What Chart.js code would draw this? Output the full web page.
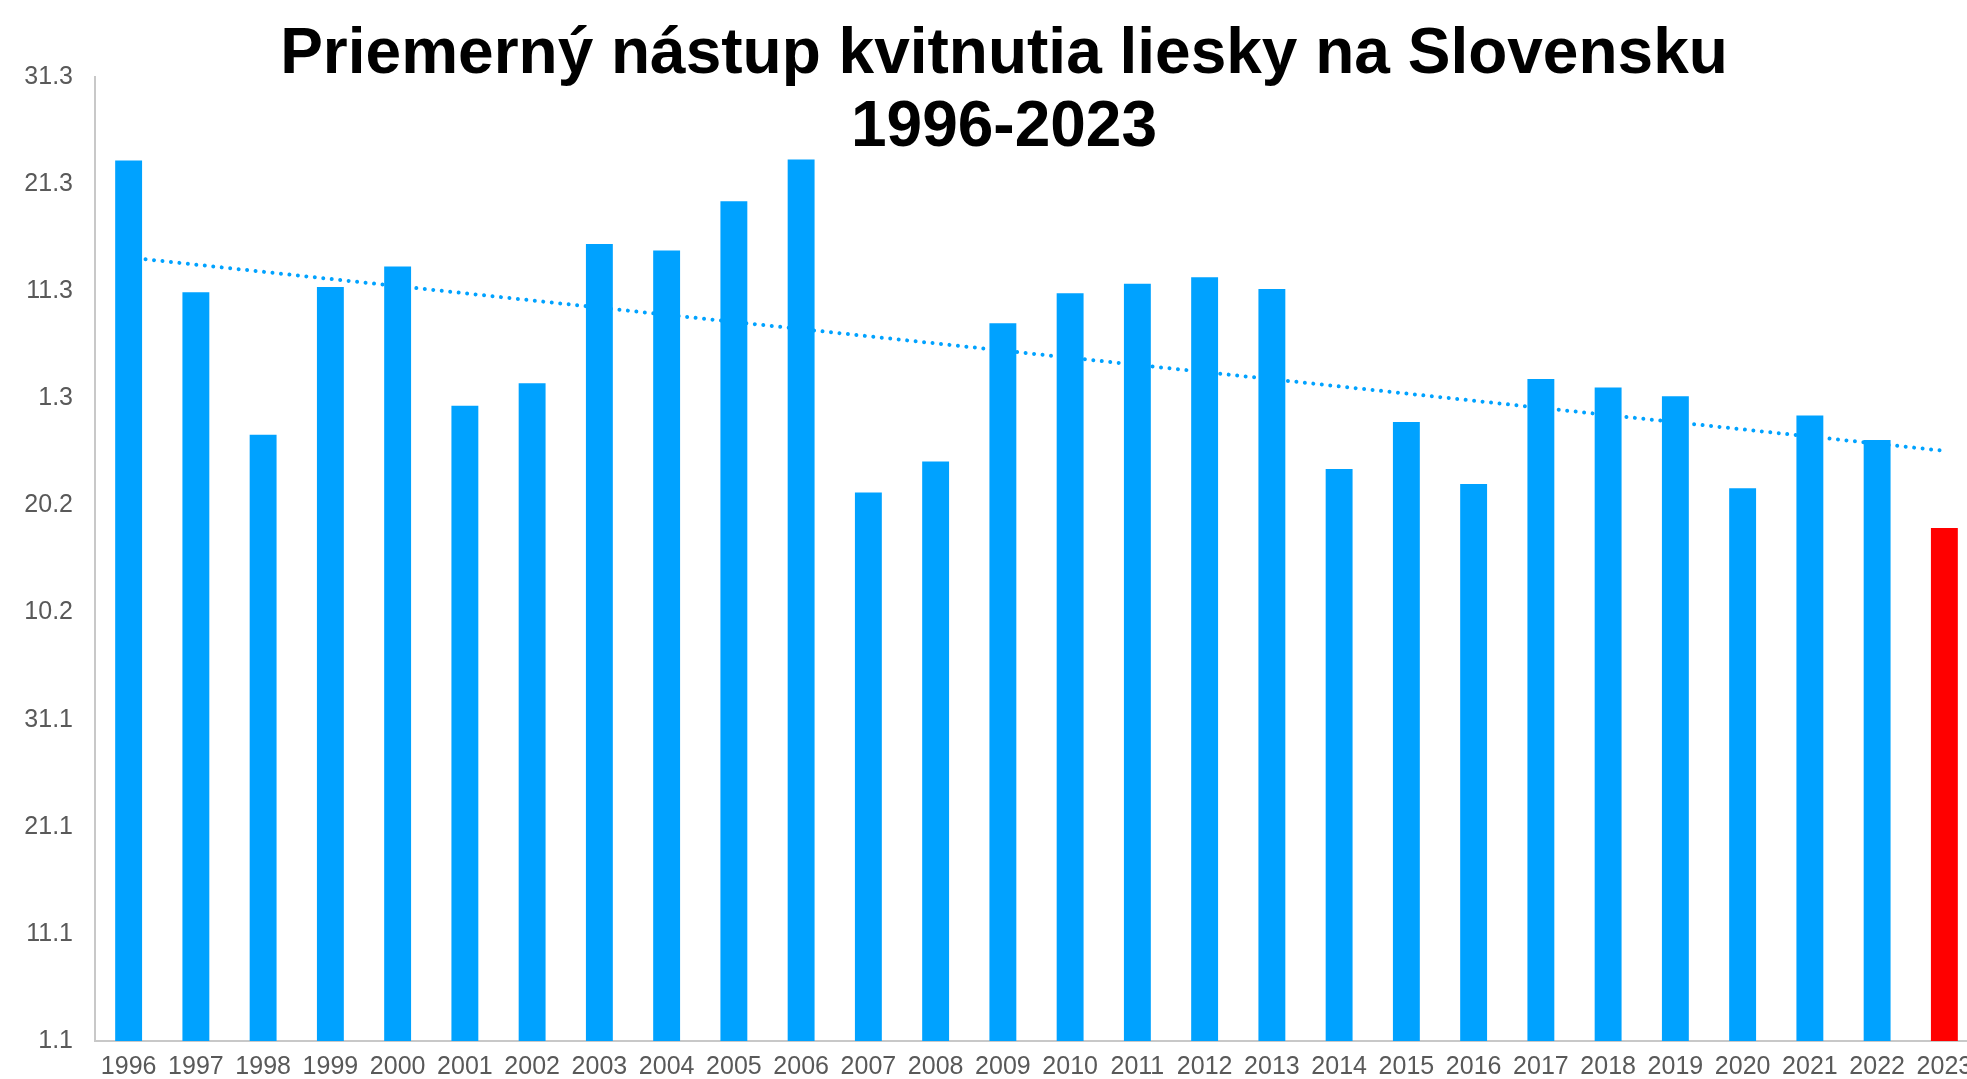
<!DOCTYPE html>
<html lang="sk">
<head>
<meta charset="utf-8">
<title>Priemerný nástup kvitnutia liesky na Slovensku 1996-2023</title>
<script src="https://cdn.jsdelivr.net/npm/chart.js@4.4.0/dist/chart.umd.min.js"></script>
<style>
  html, body { margin: 0; padding: 0; background: #fff; overflow: hidden; }
  #wrap { width: 1978px; height: 1079px; }
</style>
</head>
<body>
<div id="wrap"><canvas id="hazelChart" width="1978" height="1079"></canvas></div>
<script>
// roky pozorovania
var years = ['1996', '1997', '1998', '1999', '2000', '2001', '2002', '2003', '2004', '2005',
             '2006', '2007', '2008', '2009', '2010', '2011', '2012', '2013', '2014', '2015',
             '2016', '2017', '2018', '2019', '2020', '2021', '2022', '2023'];

// priemerny den nastupu kvitnutia (poradove cislo dna v roku)
var bloomDay = [83.2, 70.9, 57.6, 71.4, 73.3, 60.3, 62.4, 75.4, 74.8, 79.4,
                83.3, 52.2, 55.1, 68.0, 70.8, 71.7, 72.3, 71.2, 54.4, 58.8,
                53.0, 62.8, 62.0, 61.2, 52.6, 59.4, 57.1, 48.9];

// popisy osi y (den.mesiac) pre dni 1, 11, 21 ... 91
var dayLabels = ['1.1', '11.1', '21.1', '31.1', '10.2', '20.2', '1.3', '11.3', '21.3', '31.3'];

var titleLines = ['Priemerný nástup kvitnutia liesky na Slovensku', '1996-2023'];

var currentYear = '2023';

document.addEventListener('DOMContentLoaded', function() {
  // linearny trend cez vsetky roky
  var n = bloomDay.length;
  var sx = 0, sy = 0, sxy = 0, sxx = 0;
  for (var i = 0; i < n; i++) {
    sx += i; sy += bloomDay[i]; sxy += i * bloomDay[i]; sxx += i * i;
  }
  var slope = (n * sxy - sx * sy) / (n * sxx - sx * sx);
  var icept = (sy - slope * sx) / n;
  var trend = years.map(function(y, i) { return icept + slope * i; });

  var barColors = years.map(function(y) { return y === currentYear ? '#ff0000' : '#00a2ff'; });

  // nadpis kresleny cez graf (ako v Exceli)
  var overlayTitle = {
    id: 'overlayTitle',
    afterDraw: function(chart) {
      var ctx = chart.ctx;
      ctx.save();
      ctx.fillStyle = '#000';
      ctx.font = 'bold 64px "Liberation Sans", Arial, sans-serif';
      ctx.textAlign = 'center';
      ctx.textBaseline = 'alphabetic';
      ctx.fillText(titleLines[0], 1004, 73);
      ctx.fillText(titleLines[1], 1004, 146);
      ctx.restore();
    }
  };

  var ctx = document.getElementById('hazelChart').getContext('2d');
  var myChart = new Chart(ctx, {
    type: 'bar',
    data: {
      labels: years,
      datasets: [{
        type: 'bar',
        label: 'Nástup kvitnutia',
        data: bloomDay,
        backgroundColor: barColors,
        borderWidth: 0,
        barPercentage: 0.4,
        categoryPercentage: 1.0,
        order: 0
      }, {
        type: 'line',
        label: 'Trend',
        data: trend,
        borderColor: '#00a2ff',
        borderWidth: 4,
        borderDash: [0.01, 8.5],
        borderCapStyle: 'round',
        pointRadius: 0,
        fill: false,
        tension: 0,
        order: 1
      }]
    },
    options: {
      responsive: false,
      animation: false,
      devicePixelRatio: 1,
      layout: { padding: { top: 77, left: 0, right: 0, bottom: 0 } },
      plugins: {
        legend: { display: false },
        title: { display: false },
        tooltip: { enabled: false }
      },
      scales: {
        x: {
          grid: { display: false, drawTicks: false },
          border: { display: true, color: '#c8c8c8', width: 2 },
          ticks: {
            color: '#595959',
            font: { family: '"Liberation Sans", Arial, sans-serif', size: 25 },
            padding: 11,
            maxRotation: 0,
            autoSkip: false
          },
          afterFit: function(scale) {
            scale.height = 38;
            scale.paddingLeft = 0;
            scale.paddingRight = 0;
          }
        },
        y: {
          min: 1,
          max: 91,
          grid: { display: false, drawTicks: false },
          border: { display: true, color: '#c8c8c8', width: 2 },
          ticks: {
            stepSize: 10,
            color: '#595959',
            font: { family: '"Liberation Sans", Arial, sans-serif', size: 25 },
            padding: 22,
            callback: function(value) { return dayLabels[Math.round((value - 1) / 10)]; }
          },
          afterFit: function(scale) { scale.width = 95; }
        }
      }
    },
    plugins: [overlayTitle]
  });
});
</script>
</body>
</html>
